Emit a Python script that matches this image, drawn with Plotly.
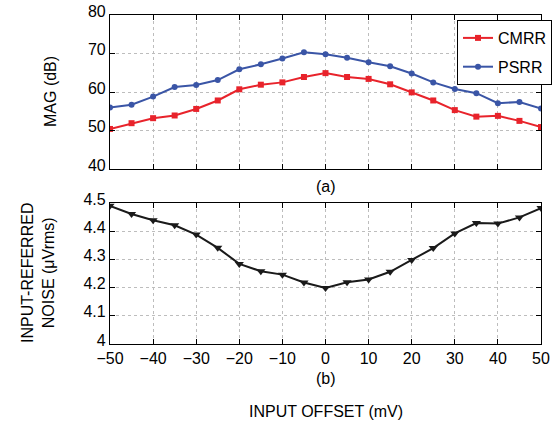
import plotly.graph_objects as go

offset = [-50, -45, -40, -35, -30, -25, -20, -15, -10, -5, 0, 5, 10, 15, 20, 25, 30, 35, 40, 45, 50]
cmrr = [50.4, 51.9, 53.2, 53.9, 55.6, 57.8, 60.7, 61.9, 62.5, 63.9, 64.9, 63.9, 63.4, 62.0, 59.9, 57.8, 55.3, 53.6, 53.8, 52.5, 50.9]
psrr = [56.0, 56.7, 58.8, 61.3, 61.8, 63.1, 65.9, 67.2, 68.7, 70.3, 69.8, 68.9, 67.7, 66.7, 64.8, 62.5, 60.8, 59.7, 57.1, 57.4, 55.7]
noise = [4.49, 4.461, 4.439, 4.421, 4.388, 4.341, 4.284, 4.258, 4.246, 4.218, 4.199, 4.219, 4.229, 4.256, 4.298, 4.340, 4.392, 4.429, 4.427, 4.449, 4.482]

x_ticks = [-50, -40, -30, -20, -10, 0, 10, 20, 30, 40, 50]
x_ticktext = ["\u221250", "\u221240", "\u221230", "\u221220", "\u221210", "0", "10", "20", "30", "40", "50"]
mag_ticks = [40, 50, 60, 70, 80]
noise_ticks = [4.0, 4.1, 4.2, 4.3, 4.4, 4.5]
noise_ticktext = ["4", "4.1", "4.2", "4.3", "4.4", "4.5"]

FONT = "Liberation Sans, Arial, Helvetica, sans-serif"
RED = "#e8232b"
BLUE = "#3a55a6"

fig = go.Figure()
fig.add_trace(go.Scatter(x=offset, y=cmrr, name="CMRR", mode="lines+markers",
                         line=dict(color=RED, width=2), legendgroup="a",
                         marker=dict(symbol="square", size=6, color=RED),
                         xaxis="x", yaxis="y"))
fig.add_trace(go.Scatter(x=offset, y=psrr, name="PSRR", mode="lines+markers",
                         line=dict(color=BLUE, width=2), legendgroup="b",
                         marker=dict(symbol="circle", size=6, color=BLUE),
                         xaxis="x", yaxis="y"))
fig.add_trace(go.Scatter(x=offset, y=noise, name="noise", mode="lines+markers",
                         line=dict(color="#1a1a1a", width=2),
                         marker=dict(symbol="triangle-down", size=8, color="#1a1a1a"),
                         showlegend=False, xaxis="x2", yaxis="y2"))

W, H = 557, 429
L, R, T, B = 110, 16, 15, 85
PW, PH = W - L - R, H - T - B


def px(xp):
    return (xp - L) / PW


def py(yp):
    return (H - B - yp) / PH


top_dom = [py(169), 1]
bot_dom = [0, py(203)]

axis_common = dict(showline=True, linecolor="black", linewidth=1.2, mirror="allticks",
                   ticks="inside", ticklen=5, tickcolor="black", automargin=False,
                   showgrid=True, gridcolor="#bdbdbd", griddash="dot", gridwidth=1,
                   zeroline=False, tickfont=dict(family=FONT, size=16, color="black"))

cx = (L + W - R) / 2


def ann(text, xp, yp, angle=0):
    return dict(text=text, x=px(xp), y=py(yp), xref="paper", yref="paper",
                xanchor="center", yanchor="middle", showarrow=False,
                textangle=angle, font=dict(size=16))


fig.update_layout(
    width=W, height=H,
    margin=dict(l=L, r=R, t=T, b=B, autoexpand=False),
    paper_bgcolor="white", plot_bgcolor="white",
    font=dict(family=FONT, size=16, color="black"),
    xaxis=dict(domain=[0, 1], range=[-50, 50], tickvals=x_ticks, showticklabels=False,
               anchor="y", **axis_common),
    yaxis=dict(domain=top_dom, range=[40, 80], tickvals=mag_ticks, anchor="x",
               ticklabelshift=-4, **axis_common),
    xaxis2=dict(domain=[0, 1], range=[-50, 50], tickvals=x_ticks, ticktext=x_ticktext,
                anchor="y2", **axis_common),
    yaxis2=dict(domain=bot_dom, range=[4.0, 4.5], tickvals=noise_ticks, ticktext=noise_ticktext,
                anchor="x2", ticklabelshift=-4, **axis_common),
    legend=dict(x=px(457), y=py(20), xanchor="left", yanchor="top",
                bordercolor="black", borderwidth=1, bgcolor="white",
                font=dict(family=FONT, size=16, color="black"), itemwidth=30,
                tracegroupgap=5, traceorder="grouped"),
    annotations=[
        ann("(a)", cx, 186),
        ann("(b)", cx, 378),
        ann("INPUT OFFSET (mV)", cx, 411),
        ann("MAG (dB)", 50, 92, -90),
        ann("INPUT-REFERRED<br>NOISE (\u03bcVrms)", 38, 273, -90),
    ],
)

fig.write_html("out.html")
